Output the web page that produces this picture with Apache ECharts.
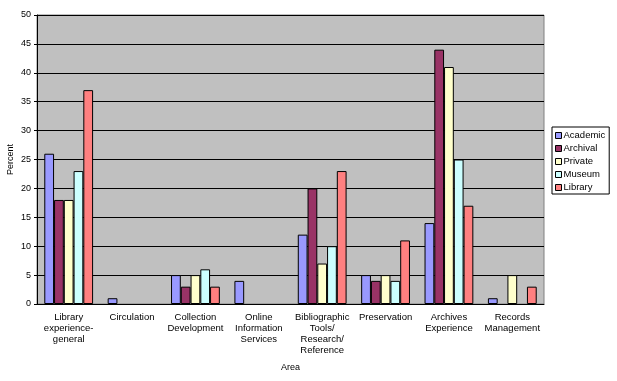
<!DOCTYPE html>
<html><head><meta charset="utf-8">
<script src="https://cdn.jsdelivr.net/npm/echarts@6/dist/echarts.min.js"></script>
<style>html,body{margin:0;padding:0;background:#fff}#c{width:617px;height:381px}</style>
</head><body><div id="c"></div>
<script>
const categories = ["Library\nexperience-\ngeneral","Circulation","Collection\nDevelopment","Online\nInformation\nServices","Bibliographic\nTools/\nResearch/\nReference","Preservation","Archives\nExperience","Records\nManagement"];
const seriesNames = ["Academic","Archival","Private","Museum","Library"];
const academic = [26,1,5,4,12,5,14,1];
const archival = [18,0,3,0,20,4,44,0];
const privateV = [18,0,5,0,7,5,41,5];
const museum   = [23,0,6,0,10,4,25,0];
const library  = [37,0,3,0,23,11,17,3];
const colors = ["#9999FF","#993366","#FFFFCC","#CCFFFF","#FF8080"];
const values = [academic, archival, privateV, museum, library];
const font = "Liberation Sans";
const chart = echarts.init(document.getElementById('c'));
chart.setOption({
  animation:false,
  textStyle:{fontFamily:font},
  grid:{left:37,right:73,top:15,bottom:77,show:true,backgroundColor:'#C0C0C0',borderColor:'#808080',borderWidth:1,
    containLabel:false,outerBoundsMode:'none'},
  legend:{orient:'vertical',left:552,top:127,padding:[3,4,1,3],itemGap:2,itemWidth:6,itemHeight:6,icon:'rect',
    borderColor:'#000',borderWidth:1,backgroundColor:'#fff',
    itemStyle:{borderColor:'#000',borderWidth:1},
    textStyle:{fontFamily:font,fontSize:9.5,lineHeight:11,color:'#000',padding:[0,0,0,-3]},
    data:seriesNames},
  xAxis:{type:'category',data:categories,name:'Area',nameLocation:'middle',nameGap:59,nameMoveOverlap:false,
    nameTextStyle:{fontSize:9,color:'#000'},
    axisLine:{lineStyle:{color:'#000'}},axisTick:{lineStyle:{color:'#000'},length:4},
    axisLabel:{interval:0,color:'#000',fontSize:9.5,lineHeight:11,margin:8}},
  yAxis:{type:'value',min:0,max:50,interval:5,name:'Percent',nameLocation:'middle',nameGap:22,nameMoveOverlap:false,
    nameTextStyle:{fontSize:9,color:'#000'},
    axisLine:{show:true,lineStyle:{color:'#000'}},axisTick:{show:true,length:3,lineStyle:{color:'#000'}},
    axisLabel:{color:'#000',fontSize:9,margin:6},
    splitLine:{lineStyle:{color:'#000',width:1}}},
  series:seriesNames.map((n,i)=>({name:n,type:'bar',data:values[i].map(v=>v===0?'-':v),barGap:'0%',barCategoryGap:'23%',
    itemStyle:{color:colors[i],borderColor:'#000',borderWidth:1}}))
});
</script></body></html>
